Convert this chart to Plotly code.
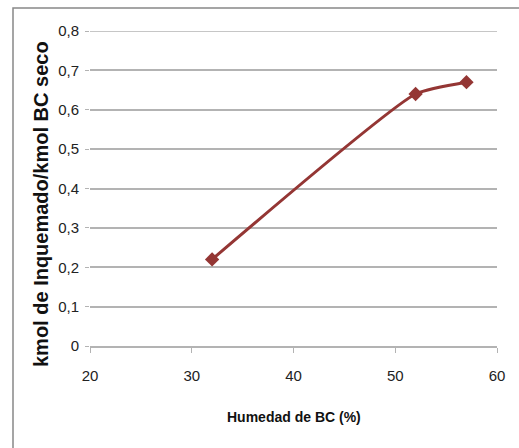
import plotly.graph_objects as go

# Moisture content of the bagasse (%) and unburnt fraction
humedad = [32, 52, 57]
inquemado = [0.22, 0.64, 0.67]

x_ticks = [20, 30, 40, 50, 60]
y_ticks = [0, 0.1, 0.2, 0.3, 0.4, 0.5, 0.6, 0.7, 0.8]

line_color = "#943634"
grid_color = "#b3b3b3"
font_family = "Liberation Sans, Arial, sans-serif"

fig = go.Figure()
fig.add_trace(go.Scatter(
    x=humedad,
    y=inquemado,
    mode="lines+markers",
    line=dict(color=line_color, width=3, shape="spline", smoothing=0.5),
    marker=dict(symbol="diamond", size=11, color=line_color),
    showlegend=False,
))

W, H = 519, 448
ml, mr, mt, mb = 90, 22, 31, 102
pw = W - ml - mr
ph = H - mt - mb

fig.update_layout(
    width=W,
    height=H,
    margin=dict(l=ml, r=mr, t=mt, b=mb),
    paper_bgcolor="white",
    plot_bgcolor="white",
    separators=",.",
    font=dict(family=font_family, color="#222222"),
    xaxis=dict(
        range=[x_ticks[0], x_ticks[-1]],
        tickvals=x_ticks,
        showgrid=False,
        zeroline=False,
        showline=True,
        linecolor=grid_color,
        linewidth=1.5,
        ticks="outside",
        ticklen=5,
        tickcolor=grid_color,
        ticklabelstandoff=10,
        tickfont=dict(size=15, color="#222222"),
    ),
    yaxis=dict(
        range=[y_ticks[0], y_ticks[-1]],
        tickvals=y_ticks,
        showgrid=True,
        gridcolor=grid_color,
        gridwidth=1.5,
        zeroline=False,
        showline=False,
        ticks="outside",
        ticklen=4,
        tickcolor=grid_color,
        ticklabelstandoff=3,
        tickfont=dict(size=15, color="#222222"),
    ),
)

# Top gridline sits on the range edge, so draw it explicitly
fig.add_shape(
    type="line", xref="x", yref="y",
    x0=x_ticks[0], x1=x_ticks[-1], y0=y_ticks[-1], y1=y_ticks[-1],
    line=dict(color=grid_color, width=1.5),
    layer="below",
)

# Axis titles
fig.add_annotation(
    text="<b>Humedad de BC (%)</b>",
    xref="paper", yref="paper",
    x=0.5, y=-(417 - mt - ph) / ph,
    showarrow=False, xanchor="center", yanchor="middle",
    font=dict(size=14, color="#111111"),
)
fig.add_annotation(
    text="<b>kmol de Inquemado/kmol BC seco</b>",
    xref="paper", yref="paper",
    x=(41 - ml) / pw, y=(H - mb - 204) / ph,
    textangle=-90,
    showarrow=False, xanchor="center", yanchor="middle",
    font=dict(size=20, color="#111111"),
)

# Chart-area frame
fig.add_shape(
    type="rect", xref="paper", yref="paper",
    x0=(13 - ml) / pw, x1=(W + 20 - ml) / pw,
    y0=-(H + 20 - mt - ph) / ph, y1=(H - mb - 8) / ph,
    line=dict(color="#888888", width=1.5),
    fillcolor="rgba(0,0,0,0)",
    layer="below",
)

fig.write_html("out.html")
